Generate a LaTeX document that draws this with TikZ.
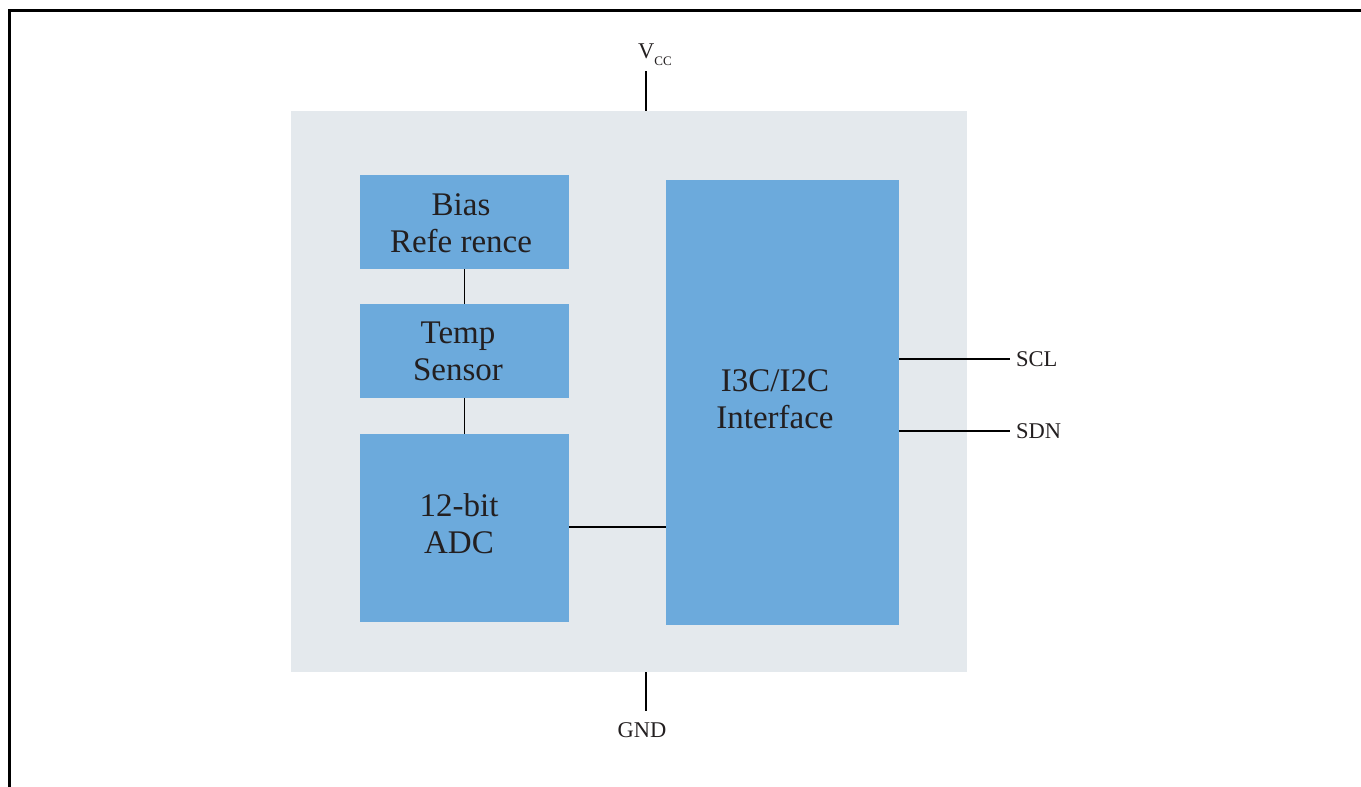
\documentclass[tikz,border=0pt]{standalone}
\usepackage{fontspec}
\setmainfont{Liberation Serif}
\definecolor{chipgray}{HTML}{E4E9ED}
\definecolor{blockblue}{HTML}{6CAADC}
\definecolor{txt}{HTML}{231F20}
\begin{document}
\begin{tikzpicture}[x=1pt,y=-1pt,
  blk/.style={fill=blockblue,draw=none,inner sep=0pt},
  blktext/.style={inner sep=0pt,align=center,text=txt,
    font=\fontsize{33}{37}\selectfont},
  pin/.style={font=\fontsize{22.5}{26}\selectfont,text=txt,inner sep=0pt},
  wire/.style={draw=black,line width=1.6pt}]
\useasboundingbox (0,0) rectangle (1361,787);
\fill[white] (0,0) rectangle (1361,787);
\draw[line width=3pt] (9.5,787) -- (9.5,10) -- (1361,10);
\node[fill=chipgray,draw=none,minimum width=676pt,minimum height=561pt,inner sep=0pt] (chip) at (629,391.5) {};
\node[blk,minimum width=209pt,minimum height=94pt] (bias) at (464.5,222) {};
\node[blk,minimum width=209pt,minimum height=94pt] (temp) at (464.5,351) {};
\node[blk,minimum width=209pt,minimum height=188pt] (adc) at (464.5,528) {};
\node[blk,minimum width=233pt,minimum height=445pt] (ifc) at (782.5,402.5) {};
\node[blktext] (biast) at (461,223) {Bias\\Refe rence};
\node[blktext] (tempt) at (458,351.5) {Temp\\Sensor};
\node[blktext] (adct) at (459,524) {12-bit\\ADC};
\node[blktext] (ifct) at (775,399) {I3C/I2C\\Interface};
\draw[wire] (bias.south) -- (temp.north);
\draw[wire] (temp.south) -- (adc.north);
\draw[wire] (adc.east |- 0,527) -- (ifc.west |- 0,527);
\coordinate (vcctop) at (646,71);
\coordinate (gndbot) at (646,711);
\coordinate (sclend) at (1010,359);
\coordinate (sdnend) at (1010,431);
\draw[wire] (vcctop) -- (vcctop |- chip.north);
\draw[wire] (gndbot |- chip.south) -- (gndbot);
\draw[wire] (ifc.east |- sclend) -- (sclend);
\draw[wire] (ifc.east |- sdnend) -- (sdnend);
\node[pin,anchor=base west] (scl) at (1016,366) {SCL};
\node[pin,anchor=base west] (sdn) at (1016,438) {SDN};
\node[pin,anchor=base] (gnd) at (642,737) {GND};
\node[pin,anchor=base west] (vcc) at (638,58) {V\raisebox{-7pt}{\fontsize{13}{14}\selectfont CC}};
\end{tikzpicture}
\end{document}
